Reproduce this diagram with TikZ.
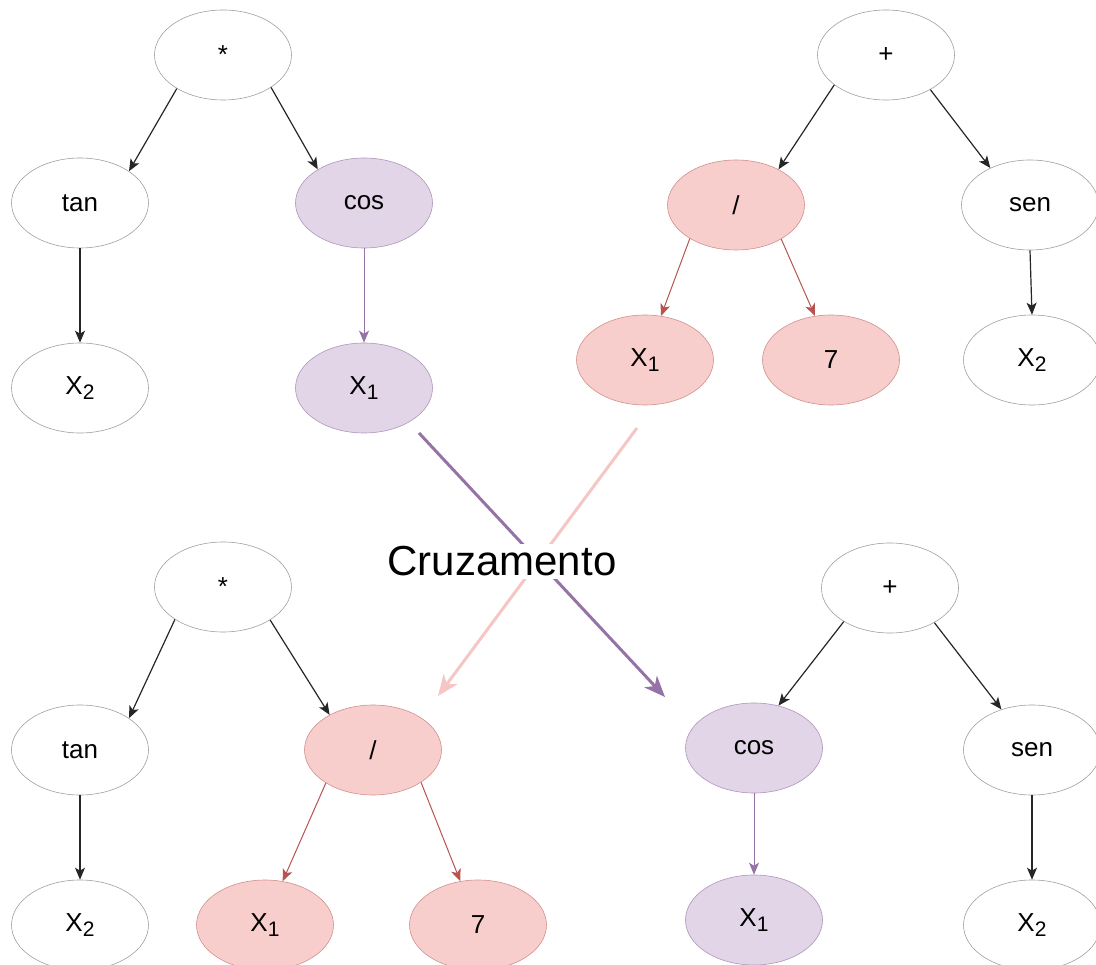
\documentclass[tikz,border=0pt]{standalone}
\usepackage{fontspec}
\setmainfont{Liberation Sans}
\usetikzlibrary{shapes.geometric,arrows.meta}

\definecolor{lilacfill}{HTML}{E1D5E7}
\definecolor{lilacline}{HTML}{9673A6}
\definecolor{rosefill}{HTML}{F8CECC}
\definecolor{roseline}{HTML}{B85450}
\definecolor{roselight}{HTML}{F5C6C3}
\definecolor{rimgray}{HTML}{A0A0A0}

% variable with a lowered index, e.g. X_1
\newcommand{\varidx}[2]{#1\raisebox{-5pt}{\fontsize{21}{22}\selectfont #2}}

\tikzset{
  treenode/.style={ellipse, draw=rimgray, line width=0.6pt, fill=white,
    minimum width=137pt, minimum height=90pt, inner sep=0pt,
    font=\fontsize{26}{30}\selectfont},
  lilacnode/.style={treenode, fill=lilacfill, draw=lilacline!75},
  rosenode/.style={treenode, fill=rosefill, draw=roseline!65},
  link/.style={line width=1.2pt, draw=black!85,
    -{Stealth[length=12pt,width=10pt,inset=3pt]}},
  lilaclink/.style={link, draw=lilacline, line width=1pt},
  roselink/.style={link, draw=roseline, line width=1pt},
  swaplink/.style={line width=3pt,
    -{Stealth[length=21pt,width=17pt,inset=6pt]}},
}

\begin{document}
\begin{tikzpicture}[x=1pt,y=-1pt]
\useasboundingbox (0,0) rectangle (1096,965);

% ---------- parent A (top left) ----------
\node[treenode]  (a0) at (223,55)  {*};
\node[treenode]  (a1) at (80,203)  {tan};
\node[lilacnode] (a2) at (364,203) {cos};
\node[treenode]  (a3) at (80,388)  {\varidx{X}{2}};
\node[lilacnode] (a4) at (364,388) {\varidx{X}{1}};
\draw[link] (a0.216) -- (a1.33);
\draw[link] (a0.326) -- (a2.144);
\draw[link] (a1.south) -- (a3.north);
\draw[lilaclink] (a2.south) -- (a4.north);

% ---------- parent B (top right) ----------
\node[treenode] (b0) at (886,55)   {+};
\node[rosenode] (b1) at (736,205)  {/};
\node[treenode] (b2) at (1030,205) {sen};
\node[rosenode] (b3) at (645,360)  {\varidx{X}{1}};
\node[rosenode] (b4) at (831,360)  {7};
\node[treenode] (b5) at (1032,360) {\varidx{X}{2}};
\draw[link] (b0.210) -- (b1.40);
\draw[link] (b0.322) -- (b2.137);
\draw[roselink] (b1.216) -- (b3.70);
\draw[roselink] (b1.323) -- (b4.110);
\draw[link] (b2.south) -- (b5.north);

% ---------- offspring A (bottom left) ----------
\node[treenode] (c0) at (223,587) {*};
\node[treenode] (c1) at (80,750)  {tan};
\node[rosenode] (c2) at (373,750) {/};
\node[treenode] (c3) at (80,925)  {\varidx{X}{2}};
\node[rosenode] (c4) at (265,925) {\varidx{X}{1}};
\node[rosenode] (c5) at (478,925) {7};
\draw[link] (c0.214) -- (c1.33);
\draw[link] (c0.325) -- (c2.141);
\draw[link] (c1.south) -- (c3.north);
\draw[roselink] (c2.215) -- (c4.68);
\draw[roselink] (c2.326) -- (c5.112);

% ---------- offspring B (bottom right) ----------
\node[treenode]  (d0) at (890,588)  {+};
\node[lilacnode] (d1) at (754,748)  {cos};
\node[treenode]  (d2) at (1032,750) {sen};
\node[lilacnode] (d3) at (754,920)  {\varidx{X}{1}};
\node[treenode]  (d4) at (1032,925) {\varidx{X}{2}};
\draw[link] (d0.216) -- (d1.60);
\draw[link] (d0.322) -- (d2.127);
\draw[lilaclink] (d1.south) -- (d3.north);
\draw[link] (d2.south) -- (d4.north);

% ---------- crossover arrows ----------
\coordinate (lilacfrom) at (419,433);
\coordinate (lilacto)   at (665,697);
\coordinate (rosefrom)  at (637,428);
\coordinate (roseto)    at (438,696);
\draw[swaplink, draw=lilacline] (lilacfrom) -- (lilacto);
\draw[swaplink, draw=roselight] (rosefrom) -- (roseto);
\node[fill=white, inner xsep=2pt, inner ysep=3pt, anchor=base,
      font=\fontsize{42}{46}\selectfont] (cross) at (502,576) {Cruzamento};

\end{tikzpicture}
\end{document}
